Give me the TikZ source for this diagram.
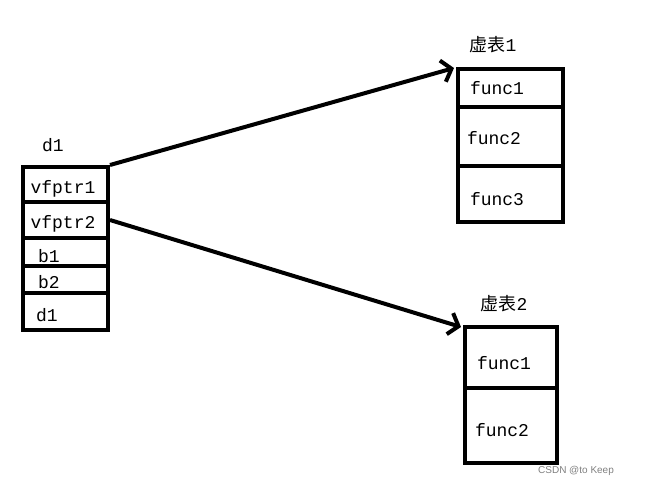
\documentclass[tikz,border=0pt]{standalone}
\usepackage{fontspec}
\setmainfont{Liberation Mono}
\newfontfamily\cjk{Noto Sans CJK SC}
\newfontfamily\wmfont{Liberation Sans}
\usepackage{tikz}
\usetikzlibrary{calc}
\usetikzlibrary{arrows.meta}

\begin{document}
\begin{tikzpicture}[
        x=1pt, y=-1pt,
        every node/.style={font=\fontsize{18}{20}\selectfont},
        cell/.style={draw, line width=4pt, inner sep=0pt, minimum width=#1},
        lbl/.style={inner sep=0pt},
        >={Straight Barb[length=9pt,width=22pt,line width=4pt]}
    ]
        \useasboundingbox (0,0) rectangle (647,488);
        % object d1
        \node[lbl] (dname) at (53,145) {d1};
        \node[cell=85, minimum height=35] (v1) at (65.5,184.5) {};
        \node[cell=85, minimum height=36] (v2) at (65.5,220) {};
        \node[cell=85, minimum height=28] (b1) at (65.5,252) {};
        \node[cell=85, minimum height=27] (b2) at (65.5,279.5) {};
        \node[cell=85, minimum height=37] (d1) at (65.5,311.5) {};
        \node[lbl] (v1t) at ($(v1) + (-2.5,4)$) {vfptr1};
        \node[lbl] (v2t) at ($(v2) + (-2.5,4)$) {vfptr2};
        \node[lbl] (b1t) at ($(b1) + (-16.5,4)$) {b1};
        \node[lbl] (b2t) at ($(b2) + (-16.5,3)$) {b2};
        \node[lbl] (d1t) at ($(d1) + (-18.5,4)$) {d1};
        % table 1
        \node[lbl] (tname1) at (493,45) {{\cjk 虚表}1};
        \node[cell=105, minimum height=38] (f11) at (510.5,88) {};
        \node[cell=105, minimum height=59] (f12) at (510.5,136.5) {};
        \node[cell=105, minimum height=56] (f13) at (510.5,194) {};
        \node[lbl] (f11t) at ($(f11) + (-13.5,0)$) {func1};
        \node[lbl] (f12t) at ($(f12) + (-16.5,2)$) {func2};
        \node[lbl] (f13t) at ($(f13) + (-13.5,5)$) {func3};
        % table 2
        \node[lbl] (tname2) at (504,304) {{\cjk 虚表}2};
        \node[cell=92, minimum height=61] (f21) at (511,357.5) {};
        \node[cell=92, minimum height=75] (f22) at (511,425.5) {};
        \node[lbl] (f21t) at ($(f21) + (-7,6)$) {func1};
        \node[lbl] (f22t) at ($(f22) + (-9,5)$) {func2};
        \draw[->, line width=4pt] (v1.north east) -- ($(f11.north west)+(-2,1)$);
        \draw[->, line width=4pt] (v2.east) -- ($(f21.north west)+(-2,2)$);
        \node[lbl, text=gray, font=\wmfont\fontsize{10}{12}\selectfont] (mark) at (576,471) {CSDN @to Keep};
    \end{tikzpicture}
\end{document}
